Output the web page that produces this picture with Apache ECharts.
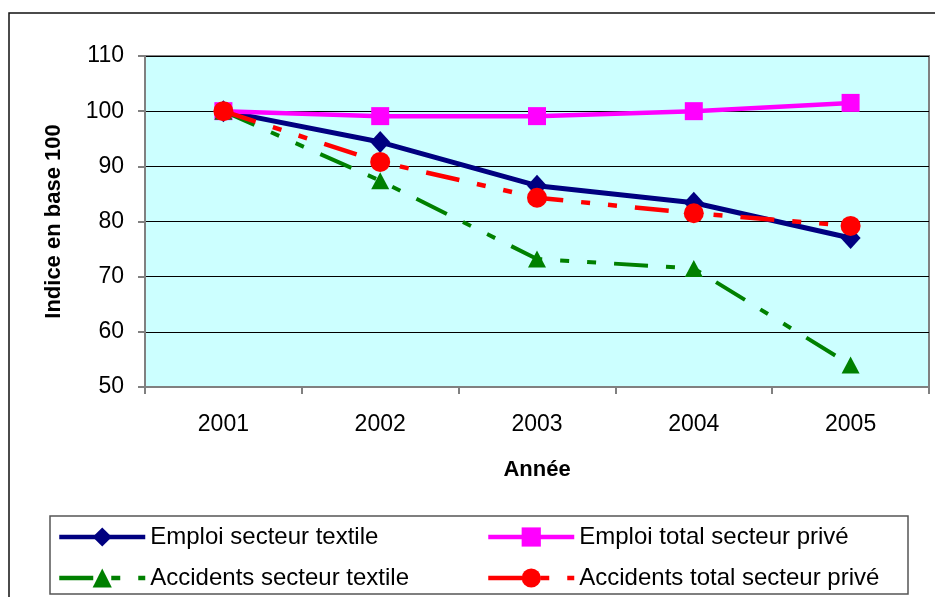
<!DOCTYPE html>
<html>
<head>
<meta charset="utf-8">
<script src="https://cdn.jsdelivr.net/npm/echarts@6/dist/echarts.min.js"></script>
<style>
html,body{margin:0;padding:0;background:#fff;}
#c{width:935px;height:597px;}
</style>
</head>
<body>
<div id="c"></div>
<script>
const categories = ['2001', '2002', '2003', '2004', '2005'];
const emploiTextile = [100, 94.4, 86.5, 83.4, 77.0];
const emploiTotal = [100, 99.1, 99.1, 100.0, 101.5];
const accidentsTextile = [100, 87.4, 73.2, 71.5, 54.0];
const accidentsTotal = [100, 90.8, 84.3, 81.5, 79.2];
const seriesNames = ['Emploi secteur textile', 'Emploi total secteur privé', 'Accidents secteur textile', 'Accidents total secteur privé'];
const yTicks = { min: 50, max: 110, interval: 10 };

const font = '"Liberation Sans", Arial, sans-serif';
const chart = echarts.init(document.getElementById('c'), null, { renderer: 'canvas' });
const dash = [34, 18, 9, 18, 9, 18];

function legend(name, left, top) {
  return {
    data: [name], left: left, top: top, orient: 'horizontal', padding: 0,
    itemWidth: 86, itemHeight: 24, itemGap: 0,
    lineStyle: { width: 4.5 },
    textStyle: { fontFamily: font, fontSize: 24, color: '#000' },
    selectedMode: false
  };
}

chart.setOption({
  animation: false,
  backgroundColor: '#fff',
  graphic: [
    { type: 'rect', shape: { x: 9, y: 13, width: 940, height: 600 }, style: { fill: 'none', stroke: '#111', lineWidth: 1.5 }, silent: true, z: -1 },
    { type: 'rect', shape: { x: 50, y: 516, width: 858, height: 78 }, style: { fill: '#fff', stroke: '#555', lineWidth: 1.5 }, silent: true, z: -1 }
  ],
  legend: [
    legend(seriesNames[0], 57, 525),
    legend(seriesNames[1], 486, 525),
    legend(seriesNames[2], 57, 566),
    legend(seriesNames[3], 486, 566)
  ],
  grid: {
    left: 145, right: 6, top: 56, bottom: 210,
    show: true, backgroundColor: '#CCFFFF', borderColor: '#808080', borderWidth: 2
  },
  xAxis: {
    type: 'category', data: categories, boundaryGap: true,
    name: 'Année', nameLocation: 'middle', nameGap: 72,
    nameTextStyle: { fontFamily: font, fontSize: 22, fontWeight: 'bold', color: '#000' },
    axisLine: { lineStyle: { color: '#808080', width: 2 } },
    axisTick: { show: true, length: 7, alignWithLabel: false, lineStyle: { color: '#808080', width: 2 } },
    axisLabel: { fontFamily: font, fontSize: 23, color: '#000', margin: 26 },
    splitLine: { show: false }
  },
  yAxis: {
    type: 'value', min: yTicks.min, max: yTicks.max, interval: yTicks.interval,
    name: 'Indice en base 100', nameLocation: 'middle', nameGap: 80, nameRotate: 90,
    nameTextStyle: { fontFamily: font, fontSize: 22, fontWeight: 'bold', color: '#000' },
    axisLine: { show: true, lineStyle: { color: '#808080', width: 2 } },
    axisTick: { show: true, length: 7, lineStyle: { color: '#808080', width: 2 } },
    axisLabel: { fontFamily: font, fontSize: 23, color: '#000', margin: 21 },
    splitLine: { show: true, lineStyle: { color: '#000', width: 1 } }
  },
  series: [
    {
      name: seriesNames[0], type: 'line', data: emploiTextile,
      symbol: 'diamond', symbolSize: [20, 22], z: 2,
      lineStyle: { color: '#000080', width: 5 },
      itemStyle: { color: '#000080' }
    },
    {
      name: seriesNames[1], type: 'line', data: emploiTotal,
      symbol: 'rect', symbolSize: 18, z: 3,
      lineStyle: { color: '#FF00FF', width: 4.5 },
      itemStyle: { color: '#FF00FF' }
    },
    {
      name: seriesNames[2], type: 'line', data: accidentsTextile,
      symbol: 'triangle', symbolSize: [18, 17], z: 4,
      lineStyle: { color: '#008000', width: 4, type: dash },
      itemStyle: { color: '#008000' }
    },
    {
      name: seriesNames[3], type: 'line', data: accidentsTotal,
      symbol: 'circle', symbolSize: 20, z: 5,
      lineStyle: { color: '#FF0000', width: 4.5, type: dash },
      itemStyle: { color: '#FF0000' }
    }
  ]
});
</script>
</body>
</html>
